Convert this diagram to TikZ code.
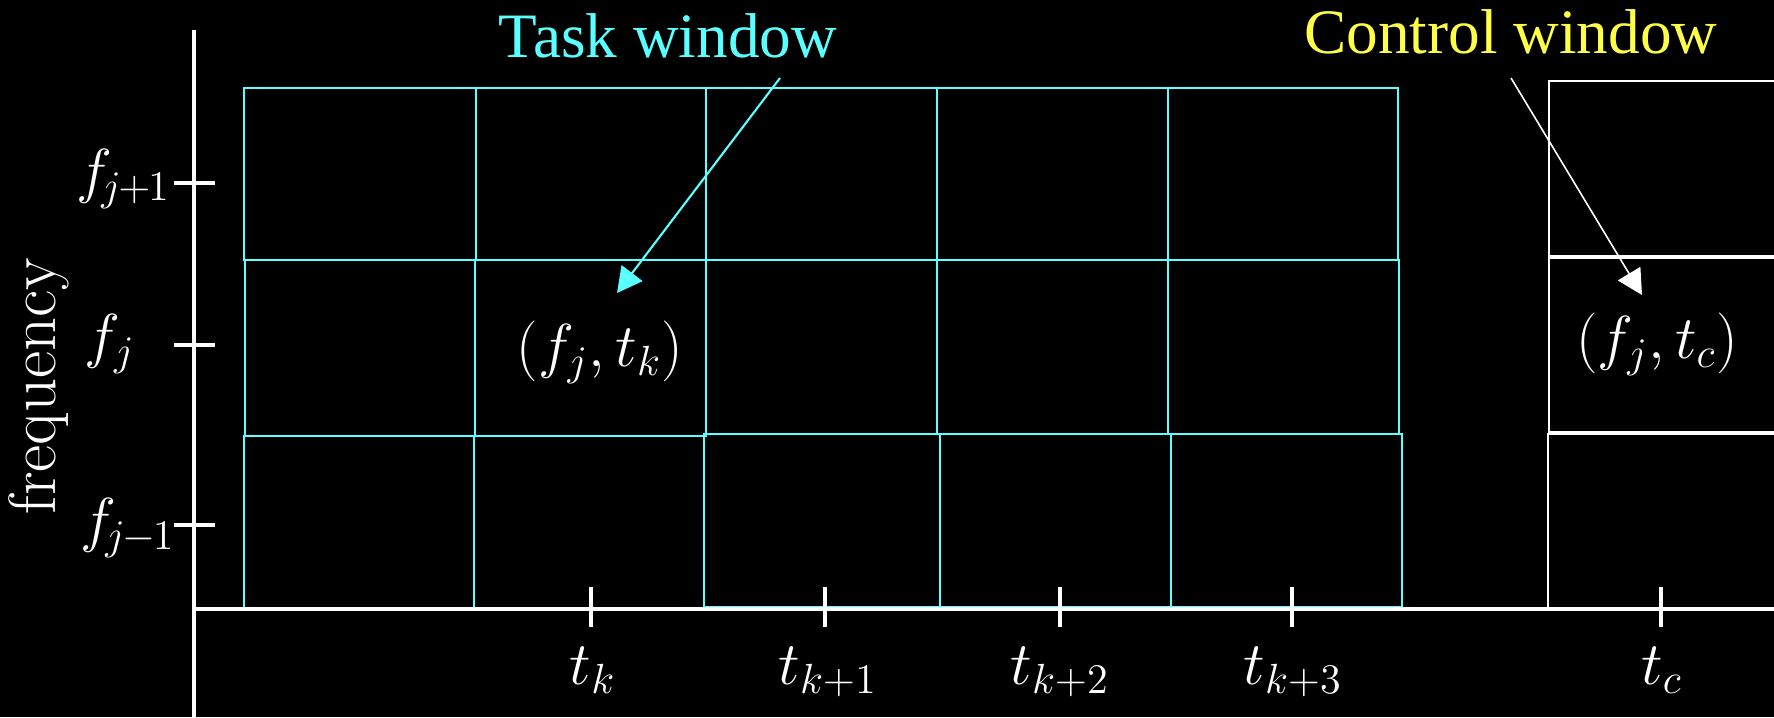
\documentclass[tikz,border=0pt]{standalone}
\usepackage{fontspec}
\newfontfamily\timesfont{Liberation Serif}
\usetikzlibrary{arrows.meta}
\definecolor{tcyan}{RGB}{90,255,255}
\definecolor{tyellow}{RGB}{255,255,70}
\begin{document}
\begin{tikzpicture}[x=0.1mm,y=-0.1mm,
  cell/.style={draw=tcyan, line width=0.75pt},
  cwin/.style={draw=white, line width=0.7pt},
  axisline/.style={draw=white, line width=0.9pt},
  tickmark/.style={draw=white, line width=0.9pt},
  lbl/.style={text=white, font=\fontsize{18}{21}\selectfont, inner sep=0pt},
  ticklbl/.style={text=white, font=\fontsize{17}{20}\selectfont, inner sep=0pt},
  title/.style={font=\timesfont\fontsize{18}{21}\selectfont, inner sep=0pt},
  tarrow/.style={line width=0.6pt, -{Triangle[length=2.5mm,width=2.6mm]}}
]
\fill[black] (0,0) rectangle (1774,717);
\clip (0,0) rectangle (1774,717);
\useasboundingbox (0,0) rectangle (1774,717);

% task window grid
\foreach \a/\b/\c/\d in {244/88/476/260, 476/88/706/260, 706/88/937/260, 937/88/1168/260, 1168/88/1398/260,
  245/260/475/436, 475/260/706/436, 706/260/937/434, 937/260/1168/434, 1168/260/1399/434,
  244/436/474/608, 474/436/704/608, 704/434/940/607, 940/434/1171/607, 1171/434/1402/607}
  \draw[cell] (\a,\b) rectangle (\c,\d);

% control window cells
\draw[cwin] (1549,81) rectangle (1800,256);
\draw[cwin] (1549,258) rectangle (1800,432);
\draw[cwin] (1548,434) rectangle (1800,609);

% axes
\coordinate (ytop) at (194,30);
\coordinate (ybot) at (194,717);
\coordinate (xleft) at (194,609);
\coordinate (xright) at (1774,609);
\draw[axisline] (ytop) -- (ybot);
\draw[axisline] (xleft) -- (xright);

% y ticks
\foreach \y/\n in {183/a,345/b,525/c}{
  \coordinate (yt\n l) at (174,\y);
  \coordinate (yt\n r) at (215,\y);
  \draw[tickmark] (yt\n l) -- (yt\n r);
}
\node[ticklbl, anchor=base west] (fj1) at (76,191) {$f_{\mkern-2mu j\mkern-1mu+\mkern-1mu1}$};
\node[ticklbl, anchor=base west] (fj) at (84,356) {$f_{j}$};
\node[ticklbl, anchor=base west] (fjm) at (80,540) {$f_{\mkern-2mu j\mkern-1mu-\mkern-1mu1}$};

% x ticks
\foreach \x/\n in {591/a,825/b,1060/c,1292/d,1661/e}{
  \coordinate (xt\n t) at (\x,587);
  \coordinate (xt\n b) at (\x,627);
  \draw[tickmark] (xt\n t) -- (xt\n b);
}
\node[ticklbl, anchor=base] (tk) at (593,684) {$t_k$};
\node[ticklbl, anchor=base] (tk1) at (828,684) {$t_{k+1}$};
\node[ticklbl, anchor=base] (tk2) at (1060,684) {$t_{k+2}$};
\node[ticklbl, anchor=base] (tk3) at (1293,684) {$t_{k+3}$};
\node[ticklbl, anchor=base] (tc) at (1662,684) {$t_c$};

% axis label
\node[lbl, font=\fontsize{19}{22}\selectfont, rotate=90, anchor=base] (freq) at (55,386) {frequency};

% cell labels
\node[lbl, anchor=base] (ftk) at (600,366) {$(f_j,t_k)$};
\node[lbl, anchor=base] (ftc) at (1657,358) {$(f_j,t_c)$};

% titles
\node[title, text=tcyan, anchor=base] (task) at (668,57) {Task window};
\node[title, text=tyellow, anchor=base] (ctrl) at (1511,53) {Control window};

% arrows
\coordinate (tstart) at (780,78);
\coordinate (ttip) at (617,293);
\draw[tarrow, tcyan] (tstart) -- (ttip);
\coordinate (cstart) at (1511,78);
\coordinate (ctip) at (1642,295);
\draw[tarrow, white, line width=0.45pt] (cstart) -- (ctip);
\end{tikzpicture}
\end{document}
